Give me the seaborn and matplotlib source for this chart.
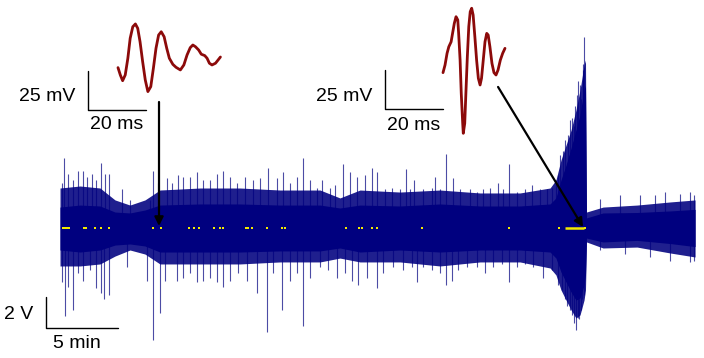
import numpy as np
import pandas as pd
import matplotlib
matplotlib.use("Agg")
import matplotlib.pyplot as plt
import seaborn as sns

# ---- data ----
# trace envelope: time (min) and band extents (V), dense core and fuzzy fringe
env_t = [0.0, 1.39, 2.78, 3.82, 4.86, 5.90, 6.94, 9.72, 12.5, 15.28, 18.06, 19.44,
         20.83, 23.61, 26.39, 29.17, 31.94, 34.03, 34.44, 34.79, 35.14, 35.49, 35.83,
         36.11, 36.39, 36.49, 36.56, 37.71, 40.07, 42.36, 44.10]
core_hi = [1.35, 1.48, 1.42, 1.03, 0.97, 1.16, 1.48, 1.55, 1.55, 1.48, 1.48, 1.29,
           1.48, 1.42, 1.55, 1.42, 1.42, 1.55, 1.94, 3.10, 4.06, 5.16, 6.32,
           7.29, 8.90, 9.23, 0.65, 0.97, 1.00, 1.10, 1.20]
core_lo = [-1.42, -1.55, -1.42, -1.10, -1.03, -1.16, -1.55, -1.55, -1.55, -1.48, -1.48, -1.29,
           -1.55, -1.42, -1.55, -1.42, -1.42, -1.55, -1.94, -2.84, -3.48, -4.13, -4.65,
           -4.52, -3.68, -3.03, -0.65, -0.90, -0.80, -1.00, -1.20]
fringe_hi = [2.58, 2.71, 2.58, 1.81, 1.48, 1.81, 2.45, 2.58, 2.58, 2.45, 2.45, 1.94,
             2.45, 2.32, 2.45, 2.26, 2.26, 2.58, 3.10, 4.39, 5.35, 6.32, 7.61,
             8.90, 10.52, 10.84, 1.03, 1.35, 1.48, 1.68, 1.81]
fringe_lo = [-2.45, -2.45, -2.32, -1.81, -1.42, -1.68, -2.32, -2.32, -2.32, -2.19, -2.19, -1.94,
             -2.19, -2.19, -2.45, -2.19, -2.19, -2.58, -3.03, -4.00, -4.65, -5.29, -5.81,
             -5.61, -4.65, -4.00, -0.90, -1.29, -1.23, -1.61, -1.87]

# large excursions (spikes): time (min), tip (V)
up_t = [0.12, 0.30, 0.58, 0.88, 1.23, 1.58, 1.85, 2.20, 2.50, 2.85, 3.13, 3.42, 4.28, 4.86,
        6.25, 6.48, 6.83, 7.45, 7.76, 8.22, 8.56, 9.03, 9.49, 9.95, 10.42, 10.88, 11.30,
        11.81, 12.27, 12.85, 13.42, 13.89, 14.47, 15.05, 15.51, 15.97, 16.44, 16.90, 17.36,
        17.83, 18.17, 18.75, 19.10, 19.67, 20.14, 20.60, 21.18, 21.65, 22.03, 22.57, 23.03,
        23.61, 24.01, 24.31, 24.60, 25.23, 25.81, 26.04, 26.39, 26.81, 27.31, 27.78, 28.47,
        28.94, 29.40, 29.86, 30.44, 30.78, 31.20, 31.72, 32.29, 32.80, 33.33, 33.80, 34.15,
        34.44, 34.58, 34.72, 34.93, 35.07, 35.28, 35.42, 35.56, 35.69, 35.76, 35.90, 35.97,
        36.11, 36.18, 36.30, 36.32, 36.41,
        37.50, 38.89, 40.28, 41.32, 42.01, 43.06, 43.75, 44.03]
up_v = [2.9, 4.5, 3.5, 3.1, 3.7, 3.7, 3.3, 3.5, 3.1, 4.2, 3.5, 3.5, 2.5, 1.8,
        1.8, 3.7, 2.9, 3.2, 2.9, 3.4, 3.3, 3.3, 3.6, 3.1, 3.1, 3.5, 3.7,
        3.3, 2.9, 3.3, 3.1, 3.2, 3.9, 3.2, 3.6, 2.9, 3.3, 4.5, 3.1,
        2.6, 3.1, 2.6, 2.8, 4.1, 3.6, 3.3, 3.4, 3.9, 3.6, 2.5, 2.6,
        2.5, 3.8, 2.5, 3.1, 2.5, 2.6, 3.3, 2.5, 4.8, 3.2, 2.5, 2.5,
        2.3, 2.5, 2.6, 2.9, 2.5, 4.1, 2.3, 2.5, 2.8, 2.5, 2.5, 2.6,
        3.1, 3.4, 4.7, 5.0, 5.7, 6.0, 7.0, 7.1, 6.6, 7.9, 8.6, 9.5,
        9.2, 8.3, 10.6, 10.2, 12.3,
        1.9, 2.1, 2.1, 2.1, 2.3, 2.2, 2.3, 2.1]
down_t = [0.12, 0.35, 0.58, 0.88, 1.23, 1.62, 2.08, 2.50, 2.85, 3.08, 3.42, 4.63, 6.02,
          6.48, 6.94, 7.29, 8.10, 8.56, 9.03, 9.49, 9.95, 10.42, 10.88, 11.34, 11.81, 12.38,
          12.97, 13.66, 14.35, 14.81, 15.40, 15.97, 16.44, 16.90, 17.36, 18.06, 18.63, 19.22,
          19.79, 20.26, 20.72, 21.30, 22.03, 22.45, 23.15, 23.84, 24.42, 24.81, 25.23, 25.81,
          26.39, 26.81, 27.20, 27.66, 28.24, 28.94, 29.51, 30.09, 30.67, 31.20, 31.72, 32.29,
          32.87, 33.56, 34.15,
          34.58, 34.86, 35.07, 35.21, 35.42, 35.56, 35.69, 35.83, 35.97, 36.04, 36.18, 36.25, 36.39,
          37.50, 39.24, 40.97, 42.36, 43.75, 44.03]
down_v = [-3.5, -5.7, -3.8, -5.3, -2.9, -3.4, -2.7, -3.9, -4.2, -4.6, -4.3, -2.5, -3.4,
          -7.2, -5.5, -3.4, -3.4, -3.2, -2.9, -3.5, -3.4, -3.2, -3.5, -3.8, -3.4, -2.9,
          -3.4, -4.2, -6.7, -2.9, -5.3, -3.4, -2.9, -6.3, -3.2, -2.5, -2.7, -3.2,
          -2.9, -3.4, -3.7, -3.2, -3.9, -2.9, -2.5, -2.7, -2.5, -3.5, -2.5, -2.7,
          -2.9, -3.7, -3.4, -2.7, -2.5, -2.5, -2.9, -2.5, -2.3, -3.5, -2.5, -2.3,
          -2.5, -3.2, -2.7,
          -3.7, -4.0, -4.6, -5.0, -5.3, -5.6, -6.1, -6.6, -5.8, -5.9, -5.3, -4.6, -4.3,
          -1.4, -1.7, -1.9, -2.1, -2.2, -2.1]

# detected events (yellow)
event_t = [0.21, 0.35, 0.49, 0.63, 1.67, 1.81, 2.43, 2.85, 3.40, 6.46, 7.01, 8.96, 9.31,
           9.65, 10.69, 11.11, 11.32, 12.92, 13.06, 13.33, 14.38, 15.42, 15.63, 19.86,
           20.76, 20.97, 21.67, 22.01, 25.14, 31.18, 34.65, 36.46]
seizure_start, seizure_end = 35.07, 36.39

# example waveforms (ms, mV)
wave1_ms = [0, 0.8, 1.6, 2.5, 3.4, 4.2, 5.1, 6.0, 6.8, 7.6, 8.5, 9.4, 10.3, 11.3, 12.2,
            13.1, 14.0, 14.9, 15.9, 16.8, 17.7, 18.9, 20.0, 21.5, 22.7, 23.8, 24.9, 25.8,
            26.7, 27.8, 28.7, 29.9, 30.7, 31.5, 32.4, 33.6, 34.5, 35.3]
wave1_mv = [-4.9, -9.6, -13.3, -9.6, 1.1, 13.9, 21.3, 23.1, 20.3, 11.7, -1.1, -12.8,
            -20.3, -17.1, -5.3, 7.5, 16.0, 18.1, 14.9, 7.5, 1.1, -2.8, -4.7, -6.4, -3.2,
            3.2, 7.9, 9.6, 8.5, 6.4, 3.7, 2.8, 1.1, -2.1, -3.2, -2.1, 0.0, 1.9]
wave2_ms = [0, 0.7, 1.4, 2.0, 2.8, 3.3, 3.9, 4.5, 5.1, 5.4, 5.9, 6.3, 6.8, 7.0, 7.5, 7.9,
            8.4, 8.9, 9.4, 9.9, 10.4, 11.0, 11.6, 12.2, 12.8, 13.3, 13.9, 14.5, 15.1,
            15.6, 16.2, 16.9, 17.6, 18.3, 19.0, 19.8, 20.6, 21.4]
wave2_mv = [-1.7, 3.2, 10.7, 14.9, 18.1, 23.5, 29.9, 34.2, 32.1, 23.5, 6.4, -14.9, -34.2,
            -40.6, -34.2, -14.9, 8.5, 27.8, 37.4, 39.6, 35.3, 21.3, 6.4, -5.3, -9.6, -5.3,
            6.4, 18.1, 23.5, 22.4, 14.9, 4.3, -1.7, -3.2, 0.0, 6.4, 10.7, 13.9]

TRACE = "#00007f"
WAVE = "#8c0a0a"
YELLOW = "#f2ea00"

sns.set_style("white")
plt.rcParams['font.family'] = ['Liberation Sans', 'DejaVu Sans']
plt.rcParams['text.color'] = 'black'

fig = plt.figure(figsize=(7.04, 3.58), dpi=100)
ax = fig.add_axes([0, 0, 1, 1])
ax.set_xlim(-4.167, 44.72)
ax.set_ylim(-8.387, 14.71)
ax.axis('off')

env = pd.DataFrame({"t": env_t, "core_hi": core_hi, "core_lo": core_lo,
                    "fringe_hi": fringe_hi, "fringe_lo": fringe_lo})
ax.fill_between(env.t, env.fringe_lo, env.fringe_hi, color=TRACE, alpha=0.88, lw=0)
ax.fill_between(env.t, env.core_lo, env.core_hi, color=TRACE, lw=0)
ax.vlines(up_t, 0, up_v, color=TRACE, lw=0.8, alpha=0.7)
ax.vlines(down_t, down_v, 0, color=TRACE, lw=0.8, alpha=0.7)

sns.scatterplot(x=event_t, y=[0] * len(event_t), ax=ax, color=YELLOW, marker='s',
                s=3, linewidth=0, zorder=5)
ax.hlines(0, seizure_start, seizure_end, color=YELLOW, lw=1.8, zorder=5)

# main scale bar: 2 V / 5 min
ax.plot([-0.99, -0.99, 4.01], [-4.45, -6.45, -6.45], color='black', lw=1.0)
ax.text(-1.875, -5.55, "2 V", ha='right', va='center', fontsize=14)
ax.text(1.18, -7.42, "5 min", ha='center', va='center', fontsize=14)

# inset waveforms with their own scale bars
ins1 = fig.add_axes([0.1136, 0.6369, 0.2131, 0.3352])
ins2 = fig.add_axes([0.5256, 0.6089, 0.2131, 0.3911])
ins1.set_xlim(-13.1, 38.6)
ins1.set_ylim(-44.9, 32.05)
ins2.set_xlim(-25.2, 26.6)
ins2.set_ylim(-44.9, 44.9)
for a in (ins1, ins2):
    a.axis('off')
    a.patch.set_alpha(0)

sns.lineplot(x=wave1_ms, y=wave1_mv, ax=ins1, color=WAVE, lw=2.0, sort=False)
sns.lineplot(x=wave2_ms, y=wave2_mv, ax=ins2, color=WAVE, lw=2.0, sort=False)

ins1.plot([-10.3, -10.3, 9.7], [-7.05, -32.05, -32.05], color='black', lw=1.0)
ins1.text(-14.8, -23.7, "25 mV", ha='right', va='center', fontsize=14, clip_on=False)
ins1.text(-0.3, -41.7, "20 ms", ha='center', va='center', fontsize=14, clip_on=False)
ins2.plot([-20, -20, 0], [0, -25, -25], color='black', lw=1.0)
ins2.text(-24.5, -17.3, "25 mV", ha='right', va='center', fontsize=14, clip_on=False)
ins2.text(-10.3, -35.3, "20 ms", ha='center', va='center', fontsize=14, clip_on=False)

# arrows from the examples to where they occur
arrow = dict(arrowstyle='-|>', color='black', lw=1.6, mutation_scale=13, shrinkA=0, shrinkB=0)
ax.annotate("", xy=(6.875, 0.13), xytext=(6.875, 8.13), arrowprops=arrow, zorder=6)
ax.annotate("", xy=(36.32, 0.06), xytext=(30.42, 9.10), arrowprops=arrow, zorder=6)

fig.savefig("out.png", dpi=100)
